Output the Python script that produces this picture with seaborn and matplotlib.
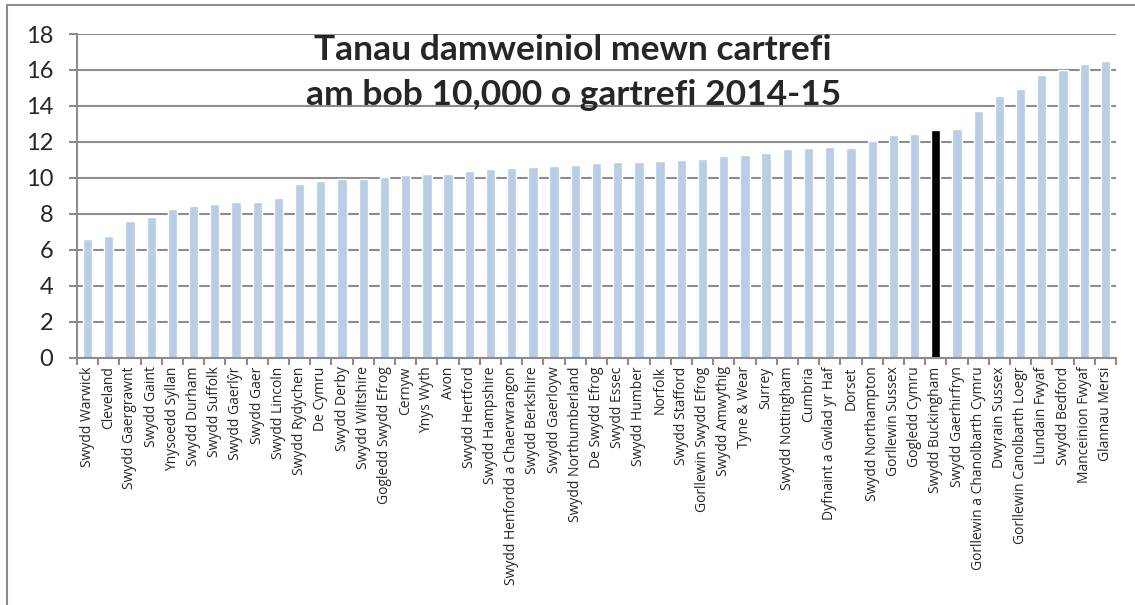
import matplotlib
matplotlib.use("Agg")
import matplotlib.pyplot as plt
import seaborn as sns
import pandas as pd
from matplotlib.lines import Line2D

# data
areas = [
    "Swydd Warwick", "Cleveland", "Swydd Gaergrawnt", "Swydd Gaint", "Ynysoedd Syllan",
    "Swydd Durham", "Swydd Suffolk", "Swydd Gaerlŷr", "Swydd Gaer", "Swydd Lincoln",
    "Swydd Rydychen", "De Cymru", "Swydd Derby", "Swydd Wiltshire", "Gogledd Swydd Efrog",
    "Cernyw", "Ynys Wyth", "Avon", "Swydd Hertford", "Swydd Hampshire",
    "Swydd Henfordd a Chaerwrangon", "Swydd Berkshire", "Swydd Gaerloyw",
    "Swydd Northumberland", "De Swydd Efrog", "Swydd Essec", "Swydd Humber", "Norfolk",
    "Swydd Stafford", "Gorllewin Swydd Efrog", "Swydd Amwythig", "Tyne & Wear", "Surrey",
    "Swydd Nottingham", "Cumbria", "Dyfnaint a Gwlad yr Haf", "Dorset",
    "Swydd Northampton", "Gorllewin Sussex", "Gogledd Cymru", "Swydd Buckingham",
    "Swydd Gaerhirfryn", "Gorllewin a Chanolbarth Cymru", "Dwyrain Sussex",
    "Gorllewin Canolbarth Loegr", "Llundain Fwyaf", "Swydd Bedford", "Manceinion Fwyaf",
    "Glannau Mersi",
]
fires = [
    6.63, 6.78, 7.63, 7.85, 8.30, 8.44, 8.57, 8.67, 8.67, 8.89,
    9.69, 9.85, 9.94, 9.94, 10.06, 10.17, 10.22, 10.22, 10.39, 10.50,
    10.54, 10.59, 10.67, 10.72, 10.81, 10.89, 10.89, 10.96, 11.00, 11.04,
    11.24, 11.28, 11.41, 11.63, 11.65, 11.72, 11.69, 12.04, 12.41, 12.43,
    12.67, 12.74, 13.72, 14.54, 14.93, 15.70, 16.02, 16.33, 16.50,
]
highlight = "Swydd Buckingham"
title_lines = ["Tanau damweiniol mewn cartrefi", "am bob 10,000 o gartrefi 2014-15"]

df = pd.DataFrame({"area": areas, "fires": fires})
colours = {a: ("#000000" if a == highlight else "#B9CDE5") for a in areas}

sns.set_style("white")
plt.rcParams["font.family"] = ["Lato", "DejaVu Sans"]

fig = plt.figure(figsize=(11.35, 6.05), dpi=100)
ax = fig.add_axes([0.0678, 0.4083, 0.9155, 0.5355])

sns.barplot(data=df, x="area", y="fires", hue="area", palette=colours,
            width=0.44, legend=False, ax=ax, saturation=1)

ax.set_ylim(0, 18)
ax.set_xlim(-0.5, len(areas) - 0.5)
ax.set_yticks(range(0, 19, 2))
ax.set_xlabel("")
ax.set_ylabel("")
ax.yaxis.grid(True, color="#8c8c8c", linewidth=1.5)
ax.set_axisbelow(True)
for side in ["top", "right"]:
    ax.spines[side].set_visible(False)
for side in ["left", "bottom"]:
    ax.spines[side].set_color("#8c8c8c")
    ax.spines[side].set_linewidth(1.5)

ax.tick_params(axis="y", labelsize=17, length=6, width=1.5, color="#8c8c8c", pad=11,
               left=True)
ax.set_xticks(range(len(areas)))
ax.set_xticklabels(areas, rotation=90, fontsize=10, family=["Open Sans", "DejaVu Sans"])
ax.tick_params(axis="x", length=0, pad=6)
ax.set_xticks([i - 0.5 for i in range(len(areas) + 1)], minor=True)
ax.tick_params(axis="x", which="minor", length=5, width=1.5, color="#8c8c8c", bottom=True)

fig.text(0.505, 0.900, title_lines[0], ha="center", va="baseline", fontsize=25.5,
         fontweight="bold")
fig.text(0.505, 0.826, title_lines[1], ha="center", va="baseline", fontsize=25.5,
         fontweight="bold")

# outer chart frame
fig.add_artist(Line2D([7 / 1135, 1], [1 - 5 / 605, 1 - 5 / 605], color="#8c8c8c", lw=1.5))
fig.add_artist(Line2D([7 / 1135, 7 / 1135], [0, 1 - 5 / 605], color="#8c8c8c", lw=1.5))

fig.savefig("out.png", dpi=100)
